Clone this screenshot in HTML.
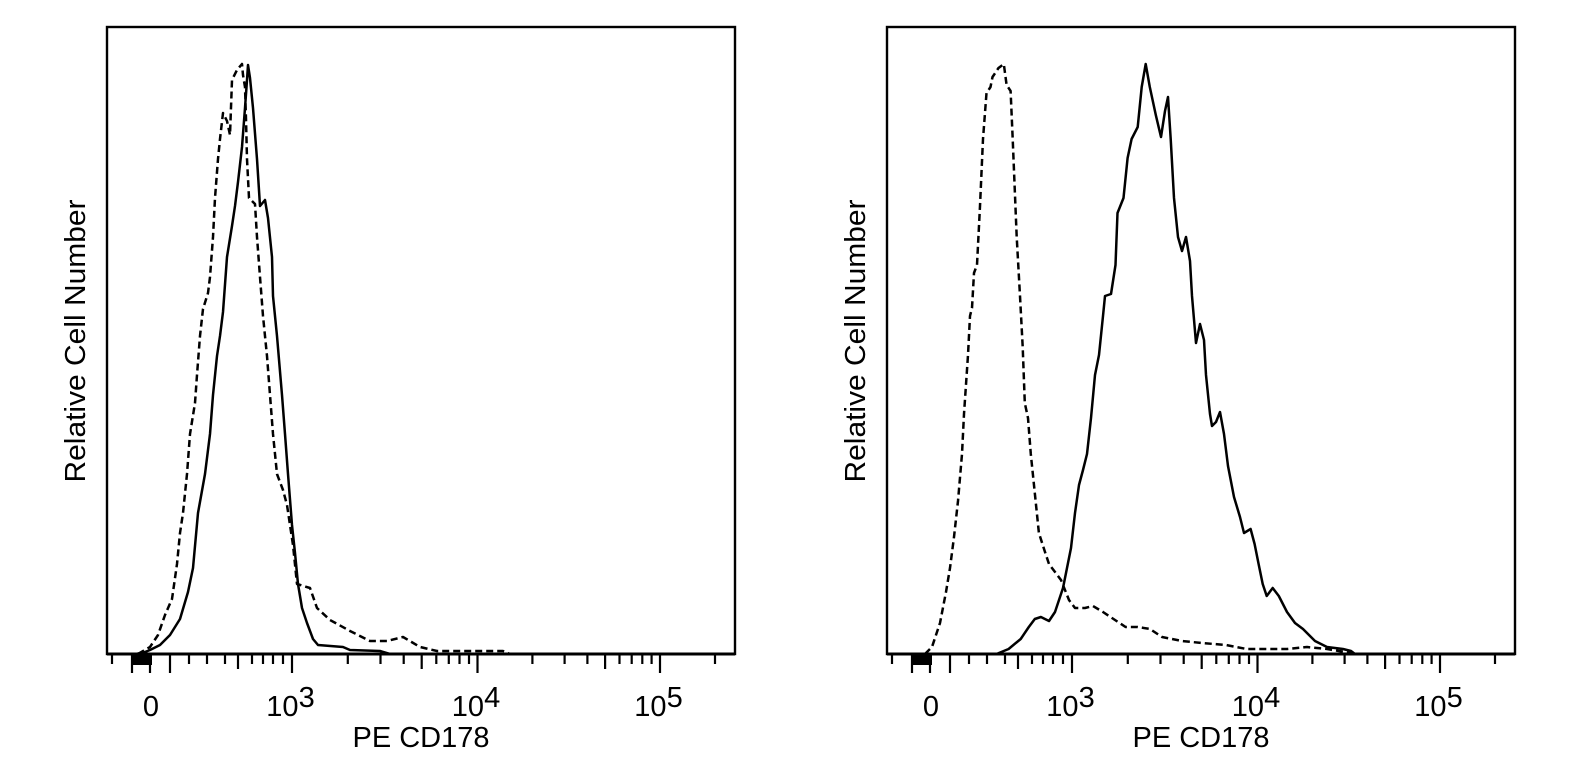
<!DOCTYPE html>
<html>
<head>
<meta charset="utf-8">
<style>
  html,body{margin:0;padding:0;background:#fff;}
  svg{display:block;}
  text{font-family:"Liberation Sans", Arial, sans-serif; fill:#000;}
</style>
</head>
<body>
<svg width="1577" height="774" viewBox="0 0 1577 774" xmlns="http://www.w3.org/2000/svg">
<rect x="0" y="0" width="1577" height="774" fill="#fff"/>

<defs>
  <g id="axis">
    <!-- frame -->
    <rect x="107" y="27" width="628" height="627" fill="none" stroke="#000" stroke-width="2.4"/>
    <line x1="107" y1="654" x2="735" y2="654" stroke="#000" stroke-width="3"/>
    <!-- dense block near zero -->
    <rect x="131" y="654" width="21" height="11" fill="#000"/>
    <g stroke="#000" stroke-width="2.2">
      <!-- long ticks -->
      <line x1="132" y1="654" x2="132" y2="673"/>
      <line x1="150" y1="654" x2="150" y2="673"/>
      <line x1="170" y1="654" x2="170" y2="673"/>
      <line x1="292" y1="654" x2="292" y2="673"/>
      <line x1="477.5" y1="654" x2="477.5" y2="673"/>
      <line x1="660" y1="654" x2="660" y2="673"/>
      <!-- medium ticks -->
      <line x1="238" y1="654" x2="238" y2="669"/>
      <line x1="421.7" y1="654" x2="421.7" y2="669"/>
      <line x1="605.1" y1="654" x2="605.1" y2="669"/>
      <!-- short ticks -->
      <line x1="112" y1="654" x2="112" y2="664"/>
      <line x1="189" y1="654" x2="189" y2="664"/>
      <line x1="207" y1="654" x2="207" y2="664"/>
      <line x1="225" y1="654" x2="225" y2="664"/>
      <line x1="252" y1="654" x2="252" y2="664"/>
      <line x1="263" y1="654" x2="263" y2="664"/>
      <line x1="273" y1="654" x2="273" y2="664"/>
      <line x1="283" y1="654" x2="283" y2="664"/>
      <line x1="347.8" y1="654" x2="347.8" y2="664"/>
      <line x1="380.5" y1="654" x2="380.5" y2="664"/>
      <line x1="403.7" y1="654" x2="403.7" y2="664"/>
      <line x1="436.3" y1="654" x2="436.3" y2="664"/>
      <line x1="448.8" y1="654" x2="448.8" y2="664"/>
      <line x1="459.5" y1="654" x2="459.5" y2="664"/>
      <line x1="469" y1="654" x2="469" y2="664"/>
      <line x1="532.4" y1="654" x2="532.4" y2="664"/>
      <line x1="564.6" y1="654" x2="564.6" y2="664"/>
      <line x1="587.4" y1="654" x2="587.4" y2="664"/>
      <line x1="619.5" y1="654" x2="619.5" y2="664"/>
      <line x1="631.7" y1="654" x2="631.7" y2="664"/>
      <line x1="642.3" y1="654" x2="642.3" y2="664"/>
      <line x1="651.6" y1="654" x2="651.6" y2="664"/>
      <line x1="715" y1="654" x2="715" y2="664"/>
    </g>
    <!-- tick labels -->
    <text x="151" y="716" font-size="29" text-anchor="middle">0</text>
    <text x="290.5" y="716" font-size="29" text-anchor="middle">10<tspan dy="-9">3</tspan></text>
    <text x="476" y="716" font-size="29" text-anchor="middle">10<tspan dy="-9">4</tspan></text>
    <text x="658.5" y="716" font-size="29" text-anchor="middle">10<tspan dy="-9">5</tspan></text>
    <!-- axis titles -->
    <text x="421" y="747" font-size="29" text-anchor="middle">PE CD178</text>
    <text transform="translate(85,341) rotate(-90)" font-size="29" text-anchor="middle" textLength="283" lengthAdjust="spacingAndGlyphs">Relative Cell Number</text>
  </g>
</defs>

<use href="#axis" x="0" y="0"/>
<use href="#axis" x="780" y="0"/>

<!-- LEFT PLOT -->
<polyline fill="none" stroke="#000" stroke-width="2.5" stroke-linejoin="round"
 points="136,654 145,652 150,650 160,645 170,635 180,619 188,592 193,568 198,513 205,474 210,434 213,395 217,356 220,336 223,312 227,257 232,226 235,206 238,182 242,147 245,108 247,80 248,65 250,78 253,108 257,159 260,206 265,200 268,218 272,257 273,296 277,336 282,395 285,434 288,474 292,525 295,553 298,584 302,608 307,623 313,639 318,645 343,647 350,650 380,651 390,654"/>
<polyline fill="none" stroke="#000" stroke-width="2.5" stroke-dasharray="7,4" stroke-linejoin="round"
 points="138,654 150,647 158,635 165,615 172,599 177,564 180,533 183,513 187,474 190,434 195,403 197,375 200,336 203,309 208,293 210,277 213,237 215,198 218,159 220,139 223,113 227,121 230,135 232,80 237,70 242,64 243,75 245,87 246,119 247,159 249,198 255,204 257,237 260,277 263,316 267,356 270,395 273,434 277,474 283,490 287,505 290,525 293,545 297,584 310,588 317,608 330,620 350,631 370,641 387,641 403,637 420,647 437,651 503,651 510,654"/>

<!-- RIGHT PLOT -->
<polyline fill="none" stroke="#000" stroke-width="2.5" stroke-dasharray="7,4" stroke-linejoin="round"
 points="925,654 932,647 940,623 946,592 950,568 954,537 958,501 962,454 964,414 968,355 970,316 972,308 974,273 977,265 980,206 983,139 986.5,93 990.5,87 992.5,77 998.5,68 1003.8,64 1006.6,85 1010.6,91 1012.7,139 1016.7,237 1020,296 1022.7,347 1024.8,403 1028,418 1030.8,454 1034.8,493 1038.9,533 1045,552 1049,564 1061,580 1069,600 1075,608 1085,608 1093,606 1103,612 1113.5,619 1125.6,627 1137.7,627 1150,629 1162,637 1182,641 1202,643 1226,645 1246.5,649 1287,649 1307,647 1327,649 1351,653"/>
<polyline fill="none" stroke="#000" stroke-width="2.5" stroke-linejoin="round"
 points="996.5,654 1008.6,649 1020.7,639 1028.8,627 1034.8,619 1040.9,617 1049,621 1055,612 1059,600 1063,588 1067,568 1071,548 1075,513 1079,485 1083,470 1087,454 1091,418 1095,375 1099,355 1103,316 1105,296 1111,294 1115.5,265 1117.5,213 1123.5,198 1127.6,158 1131.6,139 1137.7,127 1141.7,87 1145.7,64 1149.8,87 1155.8,115 1161,137 1165,111 1168,97 1170.7,139 1174,198 1178,237 1182,251 1186,237 1190,261 1192,296 1196,343 1200,324 1204,340 1206,375 1210,414 1212,426 1216,422 1220,412 1224,434 1228,466 1234,497 1240,517 1244,533 1250.6,529 1254.6,544 1258.6,564 1262.7,584 1266.7,596 1272.7,588 1278.8,596 1287,612 1295,623 1303,629 1315,641 1327,647 1343,649 1351,651 1355,654"/>
</svg>
</body>
</html>
